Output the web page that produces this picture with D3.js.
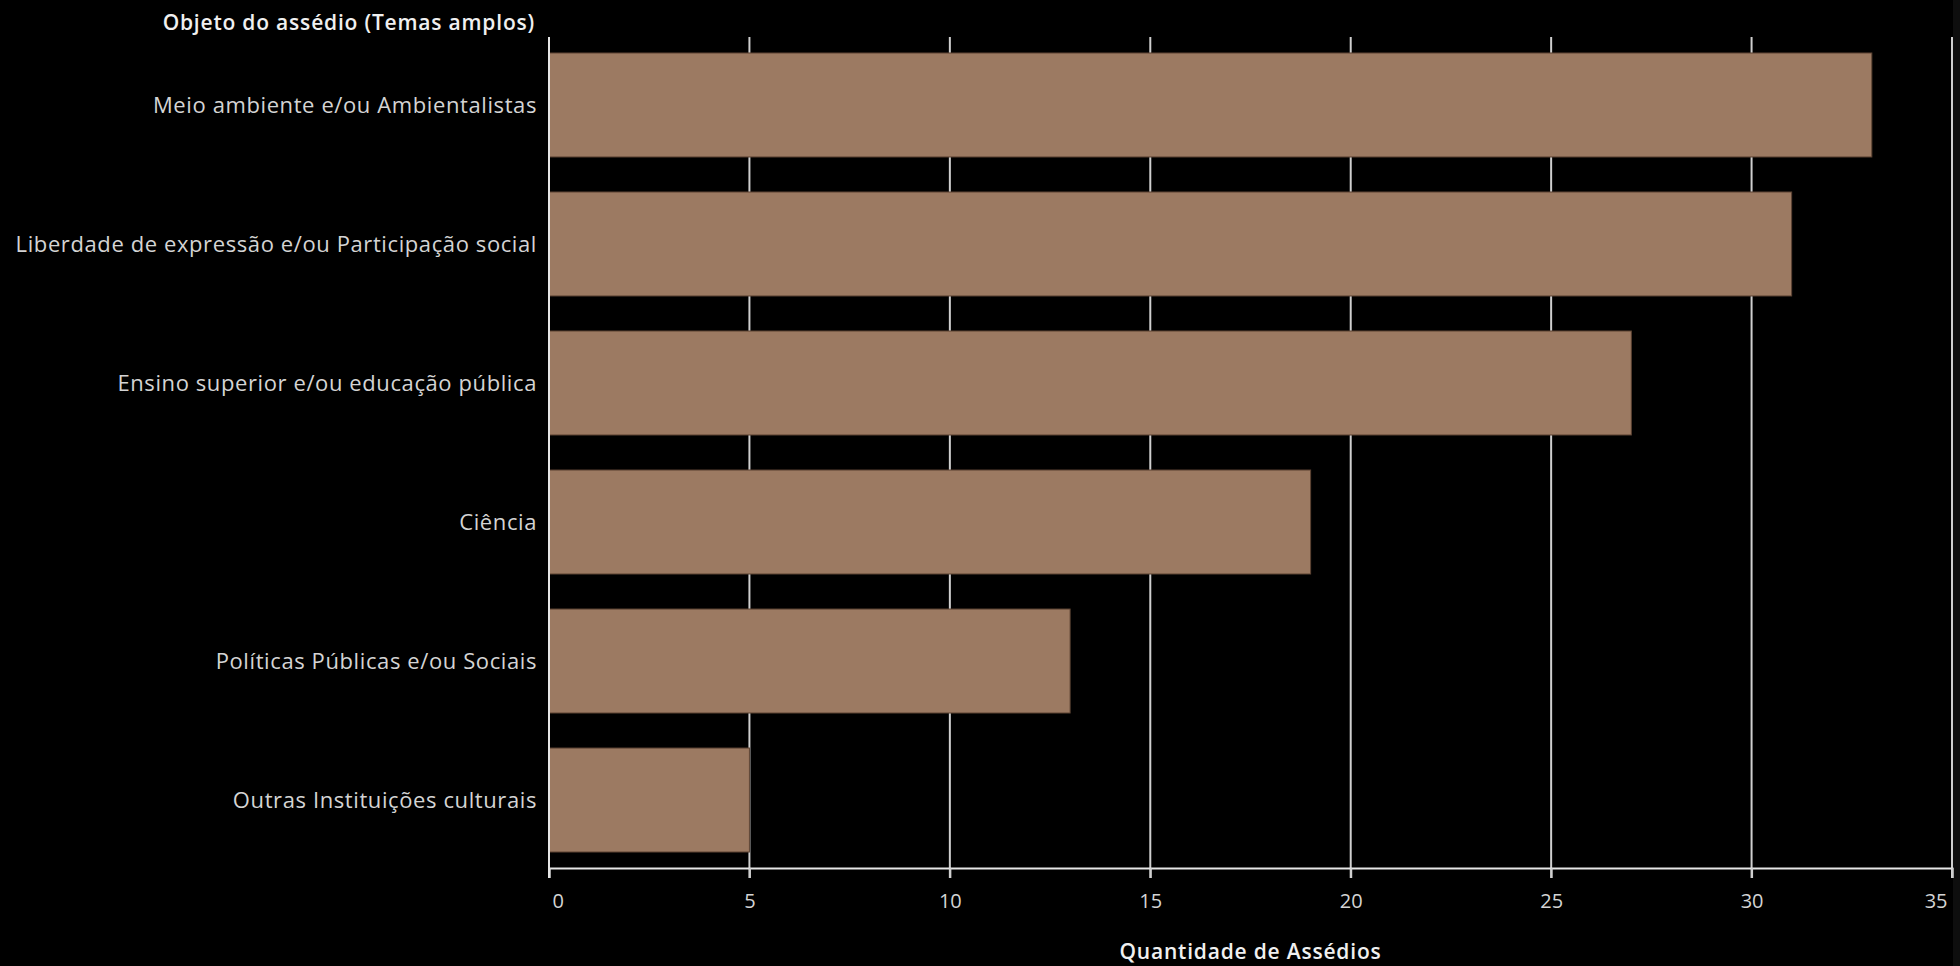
<!DOCTYPE html>
<html>
<head>
<meta charset="utf-8">
<script src="https://cdn.jsdelivr.net/npm/d3@7"></script>
<style>
  html, body { margin: 0; padding: 0; background: #000; }
  svg { display: block; }
</style>
</head>
<body>
<svg id="chart" width="1960" height="966"></svg>
<script>
//  data
const categories = [
  "Meio ambiente e/ou Ambientalistas",
  "Liberdade de expressão e/ou Participação social",
  "Ensino superior e/ou educação pública",
  "Ciência",
  "Políticas Públicas e/ou Sociais",
  "Outras Instituições culturais"
];
const values = [33, 31, 27, 19, 13, 5];
const ticks = [0, 5, 10, 15, 20, 25, 30, 35];
const y_title = "Objeto do assédio (Temas amplos)";
const x_title = "Quantidade de Assédios";

//  draw
function draw_bar_chart() {
  const margin = ({top: 37, right: 8, bottom: 98, left: 549});
  const font = "'Open Sans', 'Noto Sans', sans-serif";

  const svg = d3.select("#chart");
  const w = +svg.attr("width");
  const h = +svg.attr("height");

  svg.append("rect").attr("width", w).attr("height", h).attr("fill", "#000");
  // faint strip on the right edge
  svg.append("rect").attr("x", w - 7).attr("y", 0).attr("width", 7).attr("height", h).attr("fill", "#0e0e0e");

  const x = d3.scaleLinear().domain([0, 35]).range([margin.left, w - margin.right]);
  const y = d3.scaleBand().domain(categories)
    .range([margin.top, h - margin.bottom])
    .paddingInner(0.252).paddingOuter(0.115);

  const axisY = h - margin.bottom;  // 868

  // gridlines (extend below the axis as ticks)
  svg.append("g")
    .selectAll("line")
    .data(ticks.slice(1))
    .join("line")
      .attr("x1", d => x(d)).attr("x2", d => x(d))
      .attr("y1", margin.top).attr("y2", axisY + 10)
      .attr("stroke", "#cfcfcf")
      .attr("stroke-width", 2);

  // bars
  svg.append("g")
    .selectAll("rect")
    .data(values)
    .join("rect")
      .attr("x", x(0))
      .attr("y", (d, i) => y(categories[i]))
      .attr("width", d => x(d) - x(0))
      .attr("height", y.bandwidth())
      .attr("fill", "#9c7a62")
      .attr("stroke", "#5c4333")
      .attr("stroke-width", 1);

  // x axis
  const xAxis = g => g
    .attr("transform", `translate(0,${axisY})`)
    .call(d3.axisBottom(x).tickValues(ticks).tickSize(10).tickPadding(16))
    .call(g => g.select(".domain").attr("stroke", "#e6e6e6").attr("stroke-width", 2))
    .call(g => g.selectAll(".tick line").attr("stroke", "#cfcfcf").attr("stroke-width", 2))
    .call(g => g.selectAll(".tick text")
      .attr("fill", "#d4d4d4")
      .attr("font-family", font)
      .attr("font-size", 20)
      .attr("text-anchor", (d, i) => i == 0 ? "start" : (i == ticks.length - 1 ? "end" : "middle"))
      .attr("dx", (d, i) => i == 0 ? 3 : (i == ticks.length - 1 ? -5 : 0)));

  svg.append("g").call(xAxis);

  // y axis line
  svg.append("line")
    .attr("x1", x(0)).attr("x2", x(0))
    .attr("y1", margin.top).attr("y2", axisY + 10)
    .attr("stroke", "#e6e6e6")
    .attr("stroke-width", 2);

  // category labels
  svg.append("g")
    .selectAll("text")
    .data(categories)
    .join("text")
      .attr("x", x(0) - 12)
      .attr("y", d => y(d) + y.bandwidth() / 2)
      .attr("dy", "0.35em")
      .attr("text-anchor", "end")
      .attr("fill", "#d4d4d4")
      .attr("font-family", font)
      .attr("font-size", 22)
      .attr("letter-spacing", 0.6)
      .text(d => d);

  // titles
  svg.append("text")
    .attr("x", x(0) - 14)
    .attr("y", 23)
    .attr("dy", "0.35em")
    .attr("text-anchor", "end")
    .attr("fill", "#f0f0f0")
    .attr("font-family", font)
    .attr("font-weight", 600)
    .attr("font-size", 21)
    .attr("letter-spacing", 0.8)
    .text(y_title);

  svg.append("text")
    .attr("x", (x(0) + x(35)) / 2)
    .attr("y", 952)
    .attr("dy", "0.35em")
    .attr("text-anchor", "middle")
    .attr("fill", "#f0f0f0")
    .attr("font-family", font)
    .attr("font-weight", 600)
    .attr("font-size", 21)
    .attr("letter-spacing", 0.8)
    .text(x_title);
}

draw_bar_chart();
</script>
</body>
</html>
